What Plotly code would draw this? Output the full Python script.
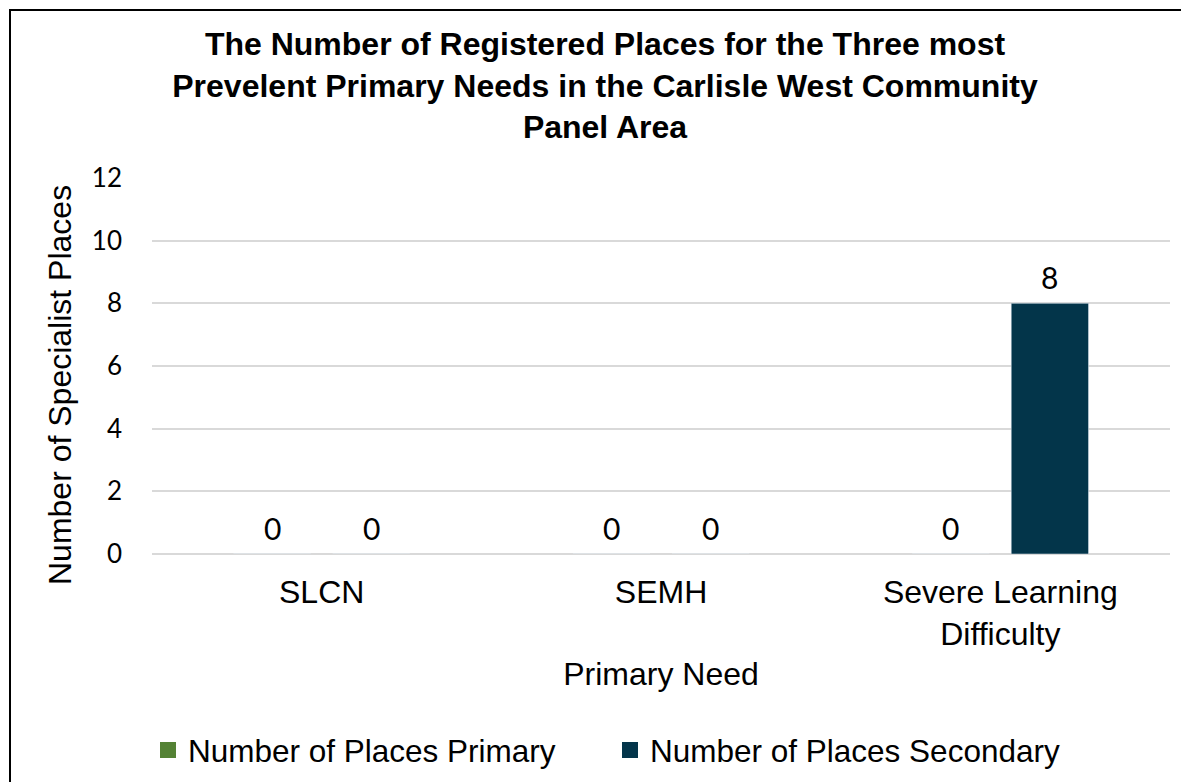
import plotly.graph_objects as go

categories = ["SLCN", "SEMH", "Severe Learning<br>Difficulty"]
primary_places = [0, 0, 0]
secondary_places = [0, 0, 8]
series_names = ["Number of Places Primary", "Number of Places Secondary"]
series_colors = ["#548235", "#03354A"]
y_ticks = [0, 2, 4, 6, 8, 10, 12]
title_text = ("The Number of Registered Places for the Three most<br>"
              "Prevelent Primary Needs in the Carlisle West Community<br>Panel Area")
y_title = "Number of Specialist Places"
x_title = "Primary Need"

ARIAL = "Liberation Sans, Arial, sans-serif"
CALIBRI = "Lato, Calibri, sans-serif"
label_font = dict(family=CALIBRI, size=30, color="#000000")

BARGAP = 0.416
BARGROUPGAP = 0.22
PLOT_W = 1018
slot_px = PLOT_W / len(categories) * (1 - BARGAP) / 2

fig = go.Figure()
series_vals = [primary_places, secondary_places]
for name, vals, col in zip(series_names, series_vals, series_colors):
    fig.add_trace(go.Bar(
        x=categories, y=vals, name=name, showlegend=False,
        marker=dict(color=col),
    ))

# legend entries with square swatches, each in its own legend box
legend_ids = ["legend", "legend2"]
for name, col, lg in zip(series_names, series_colors, legend_ids):
    fig.add_trace(go.Scatter(
        x=[None], y=[None], mode="markers", name=name, legend=lg,
        marker=dict(symbol="square", size=16, color=col),
    ))

# value labels above each bar
annotations = []
for k, vals in enumerate(series_vals):
    shift = (k - 0.5) * slot_px
    for cat, v in zip(categories, vals):
        annotations.append(dict(
            x=cat, y=v, xref="x", yref="y", text=str(v), showarrow=False,
            xanchor="center", yanchor="middle", xshift=shift, yshift=26,
            font=label_font,
        ))
# y axis title
annotations.append(dict(
    x=(52 - 144) / PLOT_W, y=(546 - 377) / 376, xref="paper", yref="paper",
    text=y_title, textangle=-90, showarrow=False,
    xanchor="center", yanchor="middle",
    font=dict(family=ARIAL, size=32, color="#000000"),
))

leg_font = dict(family=ARIAL, size=31.5, color="#000000")
fig.update_layout(
    width=1181, height=774,
    margin=dict(l=144, r=19, t=170, b=228),
    paper_bgcolor="white", plot_bgcolor="white",
    barmode="group", bargap=BARGAP, bargroupgap=BARGROUPGAP,
    title=dict(
        text="<b>" + title_text + "</b>",
        x=0.5055, xanchor="center", y=0.9393, yanchor="middle",
        font=dict(family=ARIAL, size=32, color="#000000"),
    ),
    showlegend=True,
    legend=dict(orientation="h", xref="container", yref="container",
                x=140 / 1181, xanchor="left", y=1 - 742 / 774, yanchor="middle",
                font=leg_font, itemwidth=30),
    legend2=dict(orientation="h", xref="container", yref="container",
                 x=602 / 1181, xanchor="left", y=1 - 742 / 774, yanchor="middle",
                 font=leg_font, itemwidth=30),
    annotations=annotations,
)

fig.update_xaxes(
    showgrid=False, showline=False, ticks="", ticklabelstandoff=16,
    tickfont=dict(family=ARIAL, size=32, color="#000000"),
    title=dict(text=x_title, standoff=12,
               font=dict(family=ARIAL, size=32, color="#000000")),
)
fig.update_yaxes(
    range=[0, 12], tickvals=y_ticks, ticktext=[str(t) for t in y_ticks],
    showgrid=True, gridcolor="#D9D9D9", gridwidth=1.5,
    zeroline=True, zerolinecolor="#D9D9D9", zerolinewidth=1.5,
    showline=False, ticks="", ticklabelstandoff=29,
    tickfont=dict(family=CALIBRI, size=26, color="#000000"),
)

fig.add_shape(
    type="rect", xref="paper", yref="paper",
    x0=(2 - 144) / PLOT_W, x1=1.2, y0=-1.0, y1=(546 - 2) / 376,
    line=dict(color="#000000", width=2), fillcolor="rgba(0,0,0,0)", layer="below",
)

fig.write_html("out.html")
